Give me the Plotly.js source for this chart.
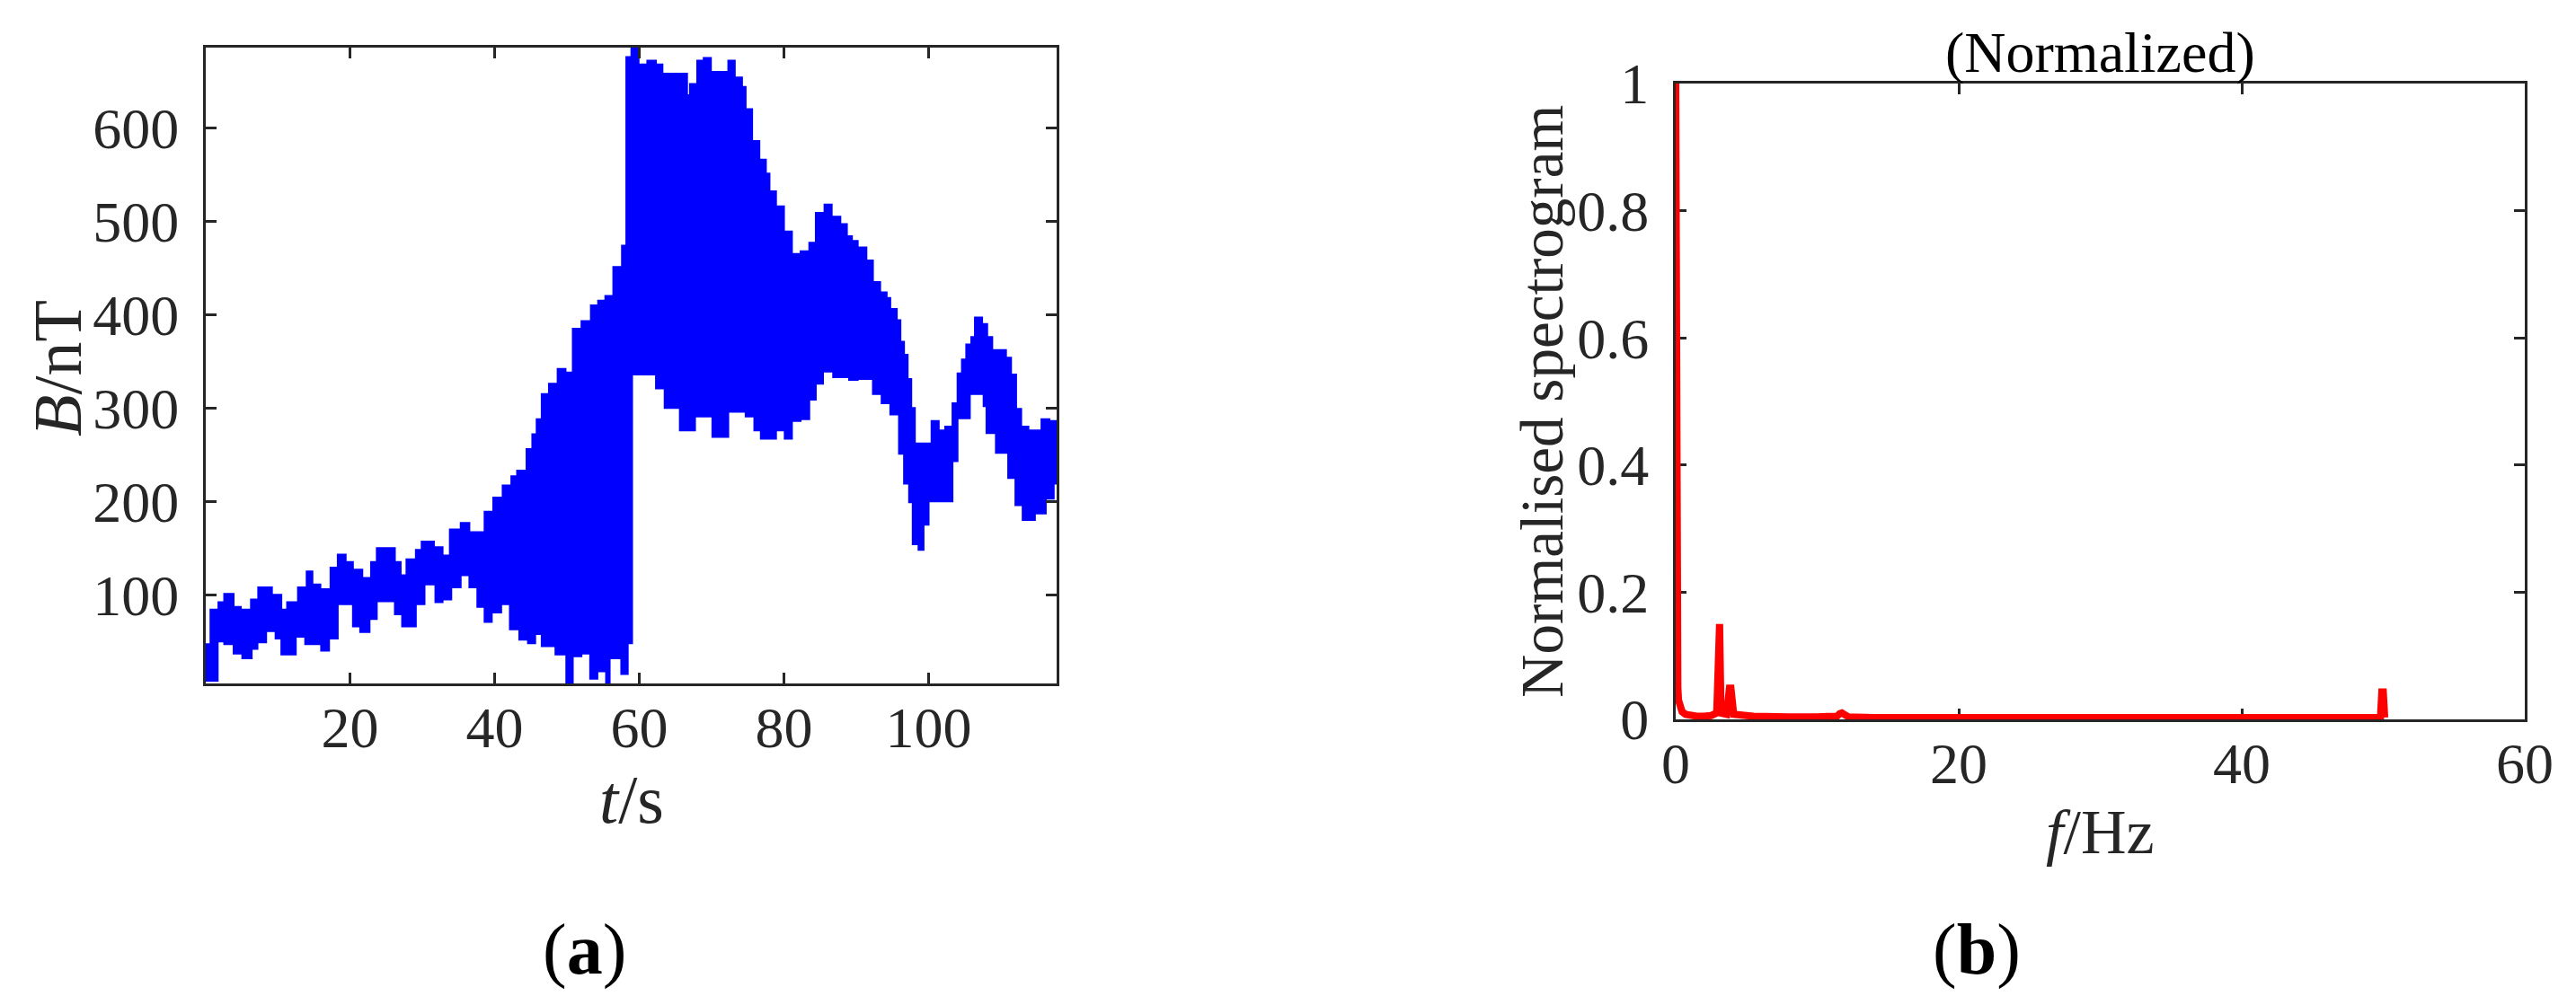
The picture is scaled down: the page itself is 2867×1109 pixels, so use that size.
<!DOCTYPE html>
<html><head><meta charset="utf-8">
<script src="https://cdn.plot.ly/plotly-3.0.1.min.js"></script>
<style>html,body{margin:0;padding:0;background:#fff;overflow:hidden}#chart{width:2867px;height:1109px}</style>
</head><body><div id="chart"></div>
<script>
// ---- Panel (a): magnetic field B (nT) vs time t (s): upper / lower envelope of the dense signal
const tUpper = [0,0.7,1.8,2.6,3.9,4.9,6.3,7.3,9.2,10.5,11.3,12.8,14.0,14.8,15.9,17.3,18.3,19.4,20.4,21.7,22.9,23.7,26.2,27.0,27.8,29.1,29.9,31.6,32.8,33.8,35.3,36.5,38.6,39.8,41.1,42.3,43.1,44.4,45.2,45.8,46.5,47.5,48.7,49.8,50.8,52.0,53.3,54.3,55.3,56.4,57.6,58.2,58.9,59.9,61.1,62.3,63.2,66.6,67.0,68.0,68.9,69.9,72.3,73.2,74.2,74.7,75.6,76.6,77.5,78.0,78.9,80.0,81.1,82.3,83.5,84.4,85.6,86.6,87.8,88.7,89.4,90.2,91.4,92.3,93.3,94.2,94.7,95.6,96.1,96.6,97.1,97.6,98.1,100.4,101.4,102.3,103.3,104.0,104.6,105.2,105.9,106.4,107.4,108.1,108.8,110.7,111.4,112.1,112.8,113.8,115.6,116.7,117.7];
const bUpper = [47,84,92,101,87,84,95,108,100,84,92,108,125,111,106,129,143,135,127,118,135,150,135,121,138,148,157,151,142,170,177,167,189,204,217,227,233,256,272,288,315,326,342,338,385,393,410,415,420,451,474,676,688,668,672,668,658,635,647,672,675,660,672,654,644,620,586,566,551,532,516,489,465,468,477,509,518,505,497,484,479,472,458,435,424,418,406,394,371,357,331,300,262,286,276,280,305,337,352,368,376,397,390,376,362,354,336,299,280,276,288,286,286];
const tLower = [0,1.7,2.6,3.9,5.1,6.4,7.2,8.4,9.7,10.5,12.5,13.8,16.0,17.1,18.3,20.4,21.4,22.7,23.7,26.2,27.2,29.1,30.3,31.8,32.8,34.0,35.3,36.5,37.6,38.6,39.6,40.9,42.1,43.4,44.6,45.6,46.5,48.4,49.9,50.8,52.0,53.2,54.2,55.4,55.9,57.5,58.4,59.0,62.3,63.5,65.6,67.7,70.1,72.3,74.7,75.9,76.8,78.9,80.1,81.1,82.3,83.5,84.4,85.4,86.8,89.0,90.2,92.3,93.5,94.7,95.9,96.6,97.3,97.8,98.6,99.3,100.0,103.3,104.0,105.7,107.6,108.0,109.3,111.0,112.0,113.0,114.7,116.2,117.3,117.7];
const bLower = [8,50,47,37,32,42,49,61,53,36,55,47,40,53,90,66,60,74,93,79,66,90,111,92,95,108,121,108,87,71,81,90,63,52,48,58,45,36,5,34,37,10,18,5,32,15,48,336,321,300,276,291,269,296,291,276,267,276,267,286,288,309,326,339,333,330,331,315,305,293,251,219,199,154,148,175,200,243,289,315,302,273,252,225,196,180,187,203,219,219];
const xTicksA = [20,40,60,80,100];
const yTicksA = [100,200,300,400,500,600];

// ---- Panel (b): normalised spectrogram vs frequency f (Hz)
const fHz  = [0,0.03,0.06,0.1,0.15,0.2,0.3,0.45,0.7,1.0,1.5,2.0,2.5,2.9,3.0,3.05,3.1,3.2,3.6,3.8,3.85,3.9,4.1,4.5,5.0,5.5,6.5,8,10,11.4,11.6,11.75,11.9,12.2,14,17,20,25,30,35,40,45,49.8,49.9,49.95,50.0,50.1];
const spec = [1.0,0.45,0.2,0.1,0.05,0.03,0.018,0.012,0.008,0.006,0.005,0.005,0.006,0.01,0.15,0.15,0.15,0.01,0.008,0.049,0.049,0.049,0.008,0.006,0.006,0.005,0.004,0.004,0.004,0.005,0.009,0.01,0.008,0.004,0.003,0.003,0.003,0.003,0.003,0.003,0.003,0.003,0.003,0.043,0.043,0.043,0.003];
const xTicksB = [0,20,40,60];
const yTicksB = [0,0.2,0.4,0.6,0.8,1];

const W = 2867, H = 1109;
const px = x => x / W;
const py = y => 1 - y / H;
const AX = '#262626';
const SERIF = 'Liberation Serif, Times New Roman, serif';

const axisCommon = {
  ticks: 'inside', ticklen: 12, tickwidth: 3, tickcolor: AX,
  showline: true, mirror: 'ticks', linecolor: AX, linewidth: 3,
  showgrid: false, zeroline: false, fixedrange: true,
  tickfont: {family: SERIF, size: 64, color: AX}
};

const traces = [
  {x: tLower, y: bLower, type: 'scatter', mode: 'lines', line: {color: '#0000FF', width: 2, shape: 'hv'}, xaxis: 'x', yaxis: 'y', hoverinfo: 'skip'},
  {x: tUpper, y: bUpper, type: 'scatter', mode: 'lines', line: {color: '#0000FF', width: 2, shape: 'hv'}, fill: 'tonexty', fillcolor: '#0000FF', xaxis: 'x', yaxis: 'y', hoverinfo: 'skip'},
  {x: fHz, y: spec, type: 'scatter', mode: 'lines', line: {color: '#FF0000', width: 8}, xaxis: 'x2', yaxis: 'y2', hoverinfo: 'skip'}
];

const layout = {
  width: W, height: H,
  margin: {l: 0, r: 0, t: 0, b: 0, pad: 0},
  paper_bgcolor: '#ffffff', plot_bgcolor: '#ffffff',
  showlegend: false,
  xaxis: Object.assign({}, axisCommon, {domain: [px(229), px(1176)], range: [0.05, 117.7], anchor: 'y', tickvals: xTicksA, ticklabelstandoff: -9}),
  yaxis: Object.assign({}, axisCommon, {domain: [py(761), py(53)], range: [5, 686], anchor: 'x', tickvals: yTicksA, ticklabelstandoff: 14}),
  xaxis2: Object.assign({}, axisCommon, {domain: [px(1865), px(2810)], range: [0, 60], anchor: 'y2', tickvals: xTicksB, ticklabelstandoff: -9, layer: 'below traces'}),
  yaxis2: Object.assign({}, axisCommon, {domain: [py(801), py(93)], range: [0, 1], anchor: 'x2', tickvals: yTicksB, ticklabelstandoff: 14, layer: 'below traces'}),
  annotations: [
    {text: '<i>t</i>/s', x: px(703), y: py(890), xref: 'paper', yref: 'paper', xanchor: 'center', yanchor: 'middle', showarrow: false, font: {family: SERIF, size: 76, color: AX}},
    {text: '<i>B</i>/nT', x: px(64), y: py(410), xref: 'paper', yref: 'paper', xanchor: 'center', yanchor: 'middle', textangle: -90, showarrow: false, font: {family: SERIF, size: 76, color: AX}},
    {text: '<i>f</i>/Hz', x: px(2337), y: py(926), xref: 'paper', yref: 'paper', xanchor: 'center', yanchor: 'middle', showarrow: false, font: {family: SERIF, size: 70, color: AX}},
    {text: 'Normalised spectrogram', x: px(1716), y: py(447), xref: 'paper', yref: 'paper', xanchor: 'center', yanchor: 'middle', textangle: -90, showarrow: false, font: {family: SERIF, size: 67, color: AX}},
    {text: '(Normalized)', x: px(2337), y: py(58), xref: 'paper', yref: 'paper', xanchor: 'center', yanchor: 'middle', showarrow: false, font: {family: SERIF, size: 64, color: '#000000'}},
    {text: '(<b>a</b>)', x: px(650), y: py(1057), xref: 'paper', yref: 'paper', xanchor: 'center', yanchor: 'middle', showarrow: false, font: {family: SERIF, size: 80, color: '#000000'}},
    {text: '(<b>b</b>)', x: px(2200), y: py(1057), xref: 'paper', yref: 'paper', xanchor: 'center', yanchor: 'middle', showarrow: false, font: {family: SERIF, size: 80, color: '#000000'}}
  ]
};

Plotly.newPlot('chart', traces, layout, {staticPlot: true, displayModeBar: false, responsive: false});
</script></body></html>
